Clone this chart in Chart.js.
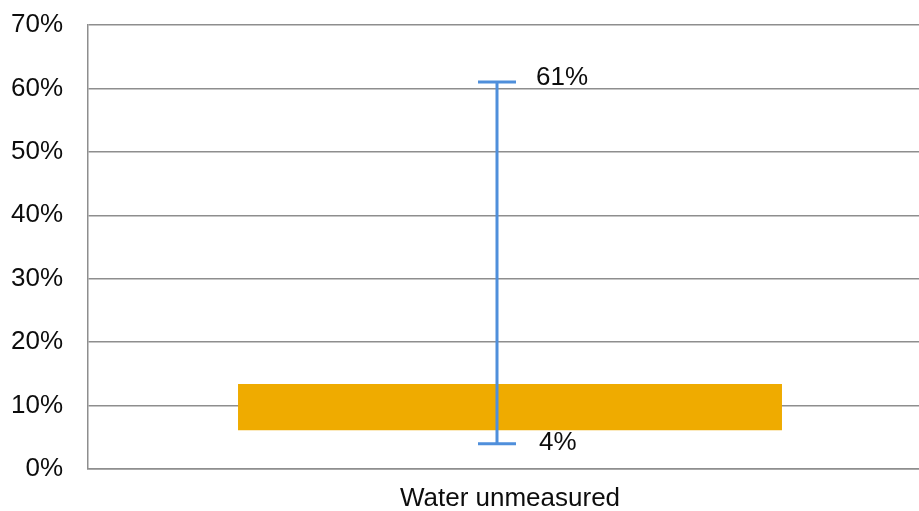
<!DOCTYPE html>
<html>
<head>
<meta charset="utf-8">
<script src="https://cdn.jsdelivr.net/npm/chart.js@4.4.1/dist/chart.umd.min.js"></script>
<style>
  html, body { margin: 0; padding: 0; background: #fff; overflow: hidden; }
  #wrap { width: 932px; height: 511px; }
</style>
</head>
<body>
<div id="wrap"><canvas id="c"></canvas></div>
<script>
// Category and values (percent)
const categories = ['Water unmeasured'];
const rangeLow = [6.1];
const rangeHigh = [13.4];
const errLow = [4];
const errHigh = [61];
const yMin = 0, yMax = 70, yStep = 10;

const FONT = "'Liberation Sans', Arial, sans-serif";
const TEXT = '#0d0d0d';
const GRID = '#8e8e8e';
const BAR = '#EFAB00';
const ERR = '#4F8FDB';
const FS = 26;

// Whisker from errLow to errHigh with caps and value labels
const errorBars = {
  id: 'errorBars',
  afterDatasetsDraw(chart) {
    const { ctx, scales: { x, y } } = chart;
    ctx.save();
    categories.forEach((cat, i) => {
      const cx = x.getPixelForValue(i) - 13;
      const yHi = y.getPixelForValue(errHigh[i]);
      const yLo = y.getPixelForValue(errLow[i]);
      const half = 19;
      ctx.strokeStyle = ERR;
      ctx.lineWidth = 3;
      ctx.beginPath();
      ctx.moveTo(cx, yHi); ctx.lineTo(cx, yLo);
      ctx.moveTo(cx - half, yHi); ctx.lineTo(cx + half, yHi);
      ctx.moveTo(cx - half, yLo); ctx.lineTo(cx + half, yLo);
      ctx.stroke();
      ctx.fillStyle = TEXT;
      ctx.font = FS + 'px ' + FONT;
      ctx.textAlign = 'left';
      ctx.textBaseline = 'middle';
      ctx.fillText(errHigh[i] + '%', cx + 39, yHi - 4);
      ctx.fillText(errLow[i] + '%', cx + 42, yLo - 1);
    });
    ctx.restore();
  }
};

new Chart(document.getElementById('c'), {
  type: 'bar',
  data: {
    labels: categories,
    datasets: [{
      data: categories.map((_, i) => [rangeLow[i], rangeHigh[i]]),
      backgroundColor: BAR,
      borderWidth: 0,
      barPercentage: 1,
      categoryPercentage: 0.6445
    }]
  },
  options: {
    responsive: true,
    maintainAspectRatio: false,
    animation: false,
    layout: { padding: { top: 25, right: 0, left: 0, bottom: 0 } },
    plugins: { legend: { display: false }, tooltip: { enabled: false } },
    scales: {
      x: {
        grid: { display: false, drawTicks: false },
        border: { display: true, color: GRID, width: 1.5 },
        ticks: { color: TEXT, font: { family: FONT, size: FS }, padding: 14 },
        afterFit(s) { s.height = 42; s.paddingLeft = 0; s.paddingRight = 0; }
      },
      y: {
        min: yMin, max: yMax,
        grid: { color: GRID, lineWidth: 1.5, drawTicks: false },
        border: { display: true, color: GRID, width: 1.5 },
        ticks: {
          stepSize: yStep,
          color: TEXT,
          font: { family: FONT, size: FS },
          padding: 25,
          callback: v => v + '%'
        },
        afterFit(s) { s.width = 88; s.paddingTop = 0; s.paddingBottom = 0; }
      }
    }
  },
  plugins: [errorBars]
});
</script>
</body>
</html>
